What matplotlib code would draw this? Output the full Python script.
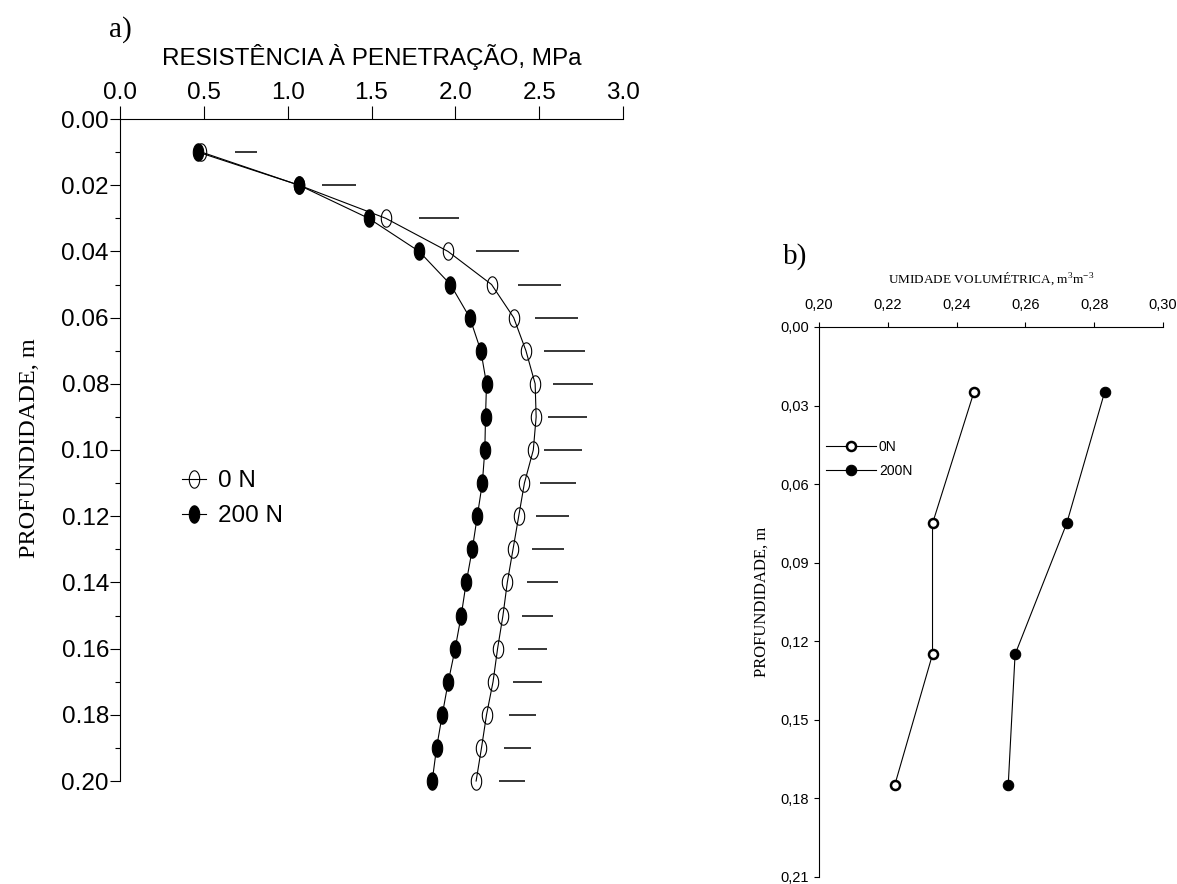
import numpy as np
import matplotlib
matplotlib.use("Agg")
import matplotlib.pyplot as plt
from matplotlib.path import Path
from matplotlib.lines import Line2D
from matplotlib.ticker import MultipleLocator, FuncFormatter

# ---------------- data ----------------
# a) penetration resistance profile (MPa) by depth (m)
depth_a = [0.01, 0.02, 0.03, 0.04, 0.05, 0.06, 0.07, 0.08, 0.09, 0.10,
           0.11, 0.12, 0.13, 0.14, 0.15, 0.16, 0.17, 0.18, 0.19, 0.20]
rp_0N = [0.486, 1.068, 1.585, 1.956, 2.216, 2.348, 2.421, 2.476, 2.482, 2.465,
         2.412, 2.378, 2.344, 2.310, 2.284, 2.252, 2.225, 2.186, 2.156, 2.124]
rp_200N = [0.465, 1.068, 1.483, 1.784, 1.971, 2.086, 2.152, 2.186, 2.180, 2.176,
           2.161, 2.131, 2.101, 2.065, 2.035, 1.999, 1.958, 1.922, 1.888, 1.862]
# least significant difference bars drawn beside each depth
lsd_start = [0.684, 1.206, 1.781, 2.122, 2.372, 2.474, 2.527, 2.580, 2.555, 2.529,
             2.506, 2.480, 2.455, 2.427, 2.399, 2.372, 2.344, 2.318, 2.289, 2.261]
lsd_end = [0.818, 1.406, 2.020, 2.382, 2.632, 2.730, 2.776, 2.821, 2.787, 2.755,
           2.717, 2.680, 2.649, 2.614, 2.583, 2.548, 2.516, 2.484, 2.453, 2.418]
labels_a = ["0 N", "200 N"]

# b) volumetric water content by depth
depth_b = [0.025, 0.075, 0.125, 0.175]
theta_0N = [0.245, 0.233, 0.233, 0.222]
theta_200N = [0.283, 0.272, 0.257, 0.255]
labels_b = ["0N", "200N"]

xticks_a = [0.0, 0.5, 1.0, 1.5, 2.0, 2.5, 3.0]
yticks_a = [0.00, 0.02, 0.04, 0.06, 0.08, 0.10, 0.12, 0.14, 0.16, 0.18, 0.20]
xticks_b = [0.20, 0.22, 0.24, 0.26, 0.28, 0.30]
yticks_b = [0.00, 0.03, 0.06, 0.09, 0.12, 0.15, 0.18, 0.21]

# ---------------- style ----------------
SANS = "Liberation Sans"
SERIF = "Liberation Serif"
plt.rcParams["font.family"] = [SANS, "DejaVu Sans"]
plt.rcParams["mathtext.fontset"] = "custom"
plt.rcParams["mathtext.rm"] = SERIF

W, H = 1177, 884
fig = plt.figure(figsize=(W / 100, H / 100), dpi=100)


def rect(left, top, right, bottom):
    return [left / W, 1 - bottom / H, (right - left) / W, (bottom - top) / H]


def fxy(x, y):
    return x / W, 1 - y / H


# tall ellipse marker
t = np.linspace(0, 2 * np.pi, 60)
ellipse = Path(np.column_stack([0.6 * np.cos(t), np.sin(t)]), closed=True)

# ---------------- panel a ----------------
ax = fig.add_axes(rect(120, 119, 623, 781))
ax.plot(rp_0N, depth_a, color="black", lw=0.8, marker=ellipse, ms=12.5,
        mfc="none", mec="black", mew=0.8, zorder=3, clip_on=False)
ax.plot(rp_200N, depth_a, color="black", lw=0.8, marker=ellipse, ms=12.5,
        mfc="black", mec="black", mew=0.8, zorder=3, clip_on=False)
ax.hlines(depth_a, lsd_start, lsd_end, color="black", lw=1.1, clip_on=False)

ax.set_xlim(0, 3.0)
ax.set_ylim(0.20, 0.0)
ax.xaxis.tick_top()
ax.set_xticks(xticks_a)
ax.set_yticks(yticks_a)
ax.yaxis.set_minor_locator(MultipleLocator(0.01))
ax.xaxis.set_major_formatter(FuncFormatter(lambda v, p: f"{v:.1f}"))
ax.yaxis.set_major_formatter(FuncFormatter(lambda v, p: f"{v:.2f}"))
for s in ("right", "bottom"):
    ax.spines[s].set_visible(False)
for s in ("top", "left"):
    ax.spines[s].set_linewidth(0.8)
ax.tick_params(axis="x", which="major", direction="out", length=9.5, width=0.8,
               pad=1.0, labelsize=17.5)
ax.tick_params(axis="y", which="major", direction="out", length=7, width=0.8,
               pad=1, labelsize=17.5)
ax.tick_params(axis="y", which="minor", direction="out", length=3.5, width=0.8)
ax.patch.set_alpha(0)

handles_a = [
    Line2D([], [], color="black", lw=0.8, marker=ellipse, ms=12.5, mfc="none",
           mec="black", mew=0.8),
    Line2D([], [], color="black", lw=0.8, marker=ellipse, ms=12.5, mfc="black",
           mec="black", mew=0.8),
]
ax.legend(handles_a, labels_a, loc="upper left",
          bbox_to_anchor=((182 - 120) / 503, 1 - (470 - 119) / 662),
          frameon=False, fontsize=17.5, handlelength=1.0, handletextpad=0.5,
          labelspacing=0.55, borderpad=0, borderaxespad=0)

fig.text(*fxy(120, 30), "a)", family=SERIF, fontsize=21, ha="center", va="center")
fig.text(*fxy(372, 57), "RESISTÊNCIA À PENETRAÇÃO, MPa", fontsize=17.5,
         ha="center", va="center")
fig.text(*fxy(30, 448), "PROFUNDIDADE, m", family=SERIF, fontsize=17.5,
         rotation=90, ha="center", va="center")

# ---------------- panel b ----------------
bx = fig.add_axes(rect(819, 327, 1163, 877))
bx.plot(theta_0N, depth_b, color="black", lw=0.8, marker="o", ms=6.5,
        mfc="white", mec="black", mew=1.8, zorder=3, clip_on=False)
bx.plot(theta_200N, depth_b, color="black", lw=0.8, marker="o", ms=7.5,
        mfc="black", mec="black", mew=0.8, zorder=3, clip_on=False)
bx.set_xlim(0.20, 0.30)
bx.set_ylim(0.21, 0.0)
bx.xaxis.tick_top()
bx.set_xticks(xticks_b)
bx.set_yticks(yticks_b)
comma = FuncFormatter(lambda v, p: f"{v:.2f}".replace(".", ","))
bx.xaxis.set_major_formatter(comma)
bx.yaxis.set_major_formatter(comma)
for s in ("right", "bottom"):
    bx.spines[s].set_visible(False)
for s in ("top", "left"):
    bx.spines[s].set_linewidth(0.8)
bx.tick_params(axis="x", direction="out", length=3.5, width=0.8, pad=7.5,
               labelsize=10.5)
bx.tick_params(axis="y", direction="out", length=3.5, width=0.8, pad=3.5,
               labelsize=10.5)
bx.patch.set_alpha(0)

handles_b = [
    Line2D([], [], color="black", lw=0.8, marker="o", ms=6.5, mfc="white",
           mec="black", mew=1.8),
    Line2D([], [], color="black", lw=0.8, marker="o", ms=7.5, mfc="black",
           mec="black", mew=0.8),
]
bx.legend(handles_b, labels_b, loc="upper left",
          bbox_to_anchor=((826 - 819) / 344, 1 - (440 - 327) / 550),
          frameon=False, fontsize=10, handlelength=3.6, handletextpad=0.2,
          labelspacing=0.7, borderpad=0, borderaxespad=0)

fig.text(*fxy(795, 257), "b)", family=SERIF, fontsize=21, ha="center", va="center")
fig.text(*fxy(991, 279), r"UMIDADE VOLUMÉTRICA, m$^\mathregular{3}$m$^\mathregular{-3}$",
         family=SERIF, fontsize=9.5, ha="center", va="center")
fig.text(*fxy(762, 602), "PROFUNDIDADE, m", family=SERIF, fontsize=12,
         rotation=90, ha="center", va="center")

fig.savefig("out.png", dpi=100)
